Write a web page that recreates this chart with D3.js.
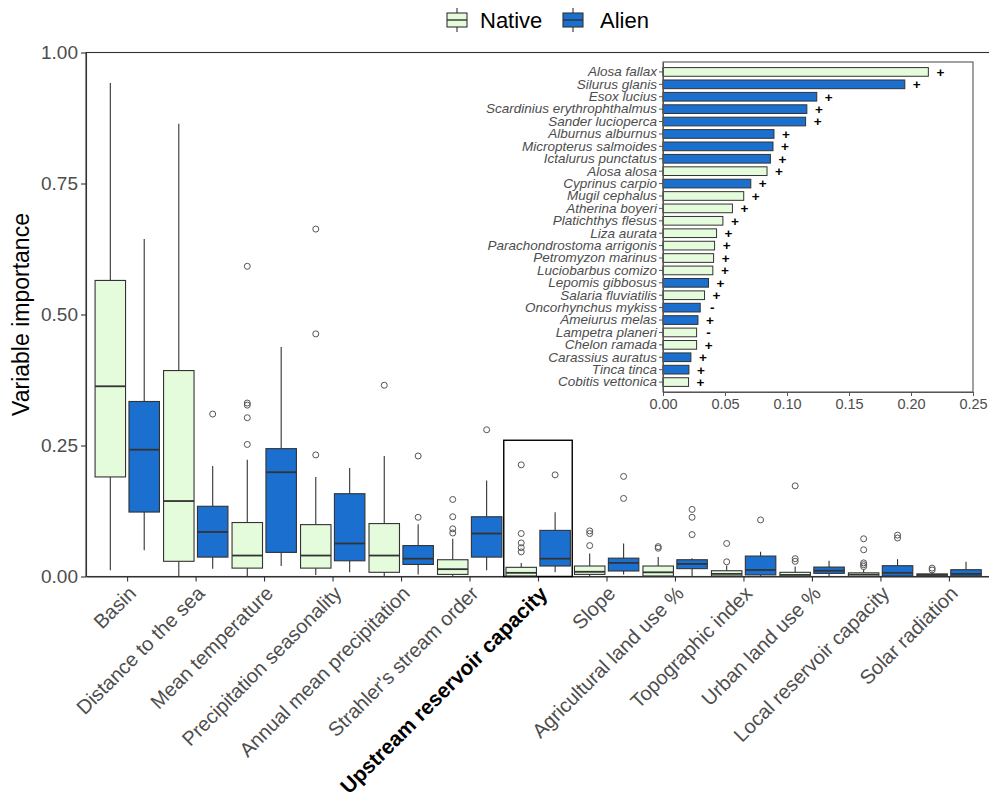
<!DOCTYPE html>
<html>
<head>
<meta charset="utf-8">
<script src="https://cdn.jsdelivr.net/npm/d3@7"></script>
<style>
  html, body { margin: 0; padding: 0; background: #fff; }
  svg { display: block; font-family: "Liberation Sans", Arial, sans-serif; }
</style>
</head>
<body>
<svg id="chart" width="989" height="800"></svg>
<script>
// ---- Variable importance by predictor (box summaries: [min, q1, median, q3, max]) ----
const categories = [
  "Basin", "Distance to the sea", "Mean temperature", "Precipitation seasonality",
  "Annual mean precipitation", "Strahler's stream order", "Upstream reservoir capacity",
  "Slope", "Agricultural land use %", "Topographic index", "Urban land use %",
  "Local reservoir capacity", "Solar radiation"
];
const groups = ["Native", "Alien"];
const highlighted = "Upstream reservoir capacity";

const nativeStats = [
  [0.012, 0.190, 0.363, 0.565, 0.942],
  [0.001, 0.029, 0.144, 0.393, 0.864],
  [0.000, 0.016, 0.040, 0.103, 0.223],
  [0.003, 0.016, 0.040, 0.099, 0.190],
  [0.000, 0.008, 0.040, 0.101, 0.230],
  [0.000, 0.004, 0.014, 0.032, 0.072],
  [0.000, 0.001, 0.007, 0.0175, 0.026],
  [0.000, 0.004, 0.009, 0.020, 0.044],
  [0.000, 0.001, 0.008, 0.020, 0.037],
  [0.000, 0.001, 0.005, 0.011, 0.021],
  [0.000, 0.000, 0.003, 0.008, 0.019],
  [0.000, 0.000, 0.0035, 0.007, 0.014],
  [0.000, 0.001, 0.003, 0.005, 0.008]
];
const alienStats = [
  [0.050, 0.123, 0.242, 0.334, 0.644],
  [0.015, 0.037, 0.085, 0.134, 0.211],
  [0.020, 0.046, 0.199, 0.244, 0.438],
  [0.008, 0.030, 0.063, 0.158, 0.207],
  [0.004, 0.023, 0.034, 0.059, 0.0996],
  [0.012, 0.037, 0.082, 0.114, 0.183],
  [0.008, 0.020, 0.034, 0.088, 0.1225],
  [0.004, 0.0105, 0.026, 0.035, 0.063],
  [0.000, 0.015, 0.024, 0.032, 0.035],
  [0.000, 0.003, 0.0125, 0.039, 0.047],
  [0.000, 0.006, 0.011, 0.018, 0.030],
  [0.001, 0.001, 0.007, 0.0206, 0.033],
  [0.000, 0.001, 0.005, 0.013, 0.028]
];
const nativeOutliers = [
  [], [],
  [0.592, 0.331, 0.327, 0.303, 0.252],
  [0.663, 0.463, 0.232],
  [0.365],
  [0.147, 0.114, 0.091, 0.083],
  [0.213, 0.082, 0.064, 0.055, 0.047],
  [0.087, 0.082, 0.059],
  [0.057, 0.054],
  [0.063, 0.028],
  [0.173, 0.034, 0.029],
  [0.072, 0.051, 0.026, 0.0225, 0.019],
  [0.016, 0.0124]
];
const alienOutliers = [
  [],
  [0.310],
  [], [],
  [0.230, 0.113],
  [0.280],
  [0.194],
  [0.191, 0.149],
  [0.128, 0.113, 0.080],
  [0.108],
  [],
  [0.079, 0.0735],
  []
];
const yTicks = [0, 0.25, 0.5, 0.75, 1];
const highlightTop = 0.26;

// ---- Species importance (inset bar chart) ----
const species = [
  "Alosa fallax", "Silurus glanis", "Esox lucius", "Scardinius erythrophthalmus",
  "Sander lucioperca", "Alburnus alburnus", "Micropterus salmoides", "Ictalurus punctatus",
  "Alosa alosa", "Cyprinus carpio", "Mugil cephalus", "Atherina boyeri",
  "Platichthys flesus", "Liza aurata", "Parachondrostoma arrigonis", "Petromyzon marinus",
  "Luciobarbus comizo", "Lepomis gibbosus", "Salaria fluviatilis", "Oncorhynchus mykiss",
  "Ameiurus melas", "Lampetra planeri", "Chelon ramada", "Carassius auratus",
  "Tinca tinca", "Cobitis vettonica"
];
const speciesImportance = [
  0.214, 0.195, 0.124, 0.116, 0.115, 0.0895, 0.0887, 0.0866, 0.0839, 0.0708,
  0.0651, 0.056, 0.0483, 0.0432, 0.0416, 0.0408, 0.0402, 0.0367, 0.0335, 0.030,
  0.0282, 0.0271, 0.0271, 0.0225, 0.0209, 0.0206
];
const speciesStatus = [
  "Native", "Alien", "Alien", "Alien", "Alien", "Alien", "Alien", "Alien", "Native", "Alien",
  "Native", "Native", "Native", "Native", "Native", "Native", "Native", "Alien", "Native", "Alien",
  "Alien", "Native", "Native", "Alien", "Alien", "Native"
];
const speciesEffect = [
  "+", "+", "+", "+", "+", "+", "+", "+", "+", "+",
  "+", "+", "+", "+", "+", "+", "+", "+", "+", "-",
  "+", "-", "+", "+", "+", "+"
];
const insetTicks = [0, 0.05, 0.10, 0.15, 0.20, 0.25];

// ---- styling ----
const fillColor = { Native: "#e4fbdc", Alien: "#1a6fcf" };
const lineColor = "#333333";
const textGray = "#4d4d4d";

const svg = d3.select("#chart");

// main panel
const panel = { left: 86, right: 990, top: 52.5, bottom: 576.5 };
const x = d3.scalePoint().domain(categories).range([panel.left, panel.right]).padding(0.6);
const y = d3.scaleLinear().domain([0, 1]).range([panel.bottom, panel.top]);
const step = x.step();
const boxW = step * 0.445;
const dodge = { Native: -step * 0.245, Alien: step * 0.25 };

// frame of the main panel
svg.append("rect")
  .attr("x", panel.left).attr("y", panel.top)
  .attr("width", panel.right - panel.left).attr("height", panel.bottom - panel.top)
  .attr("fill", "none").attr("stroke", lineColor).attr("stroke-width", 1.1);

// y axis
const yAxis = svg.append("g")
  .attr("transform", `translate(${panel.left},0)`)
  .call(d3.axisLeft(y).tickValues(yTicks).tickFormat(d3.format(".2f")).tickSize(5).tickSizeOuter(0));
yAxis.select(".domain").attr("stroke", lineColor).attr("stroke-width", 1.1);
yAxis.selectAll(".tick line").attr("stroke", lineColor).attr("stroke-width", 1.1);
yAxis.selectAll(".tick text")
  .attr("font-size", 19).attr("fill", textGray).attr("x", -8)
  .attr("font-family", "Liberation Sans, Arial, sans-serif");

// x axis
const xAxis = svg.append("g")
  .attr("transform", `translate(0,${panel.bottom})`)
  .call(d3.axisBottom(x).tickSize(5).tickSizeOuter(0).tickFormat(""));
xAxis.select(".domain").attr("stroke", lineColor).attr("stroke-width", 1.1);
xAxis.selectAll(".tick line").attr("stroke", lineColor).attr("stroke-width", 1.1);

svg.append("g").selectAll("text")
  .data(categories)
  .join("text")
  .attr("transform", d => `translate(${x(d)},${panel.bottom + 8}) rotate(-45)`)
  .attr("text-anchor", "end")
  .attr("dy", "0.72em")
  .attr("font-size", d => d === highlighted ? 21 : 20)
  .attr("font-weight", d => d === highlighted ? "bold" : "normal")
  .attr("fill", d => d === highlighted ? "#000" : textGray)
  .text(d => d);

// y title
svg.append("text")
  .attr("transform", `translate(29,${(panel.top + panel.bottom) / 2}) rotate(-90)`)
  .attr("text-anchor", "middle")
  .attr("font-size", 23)
  .attr("fill", "#000")
  .text("Variable importance");

// highlight frame around the upstream reservoir capacity pair
svg.append("rect")
  .attr("x", x(highlighted) - step / 2)
  .attr("y", y(highlightTop))
  .attr("width", step)
  .attr("height", y(0) - y(highlightTop))
  .attr("fill", "none")
  .attr("stroke", "#000")
  .attr("stroke-width", 1.4);

// boxplots
const boxes = [];
categories.forEach((c, i) => {
  boxes.push({ cat: c, group: "Native", s: nativeStats[i], out: nativeOutliers[i] });
  boxes.push({ cat: c, group: "Alien", s: alienStats[i], out: alienOutliers[i] });
});

const bx = svg.append("g").selectAll("g.box").data(boxes).join("g").attr("class", "box");
bx.each(function (d) {
  const g = d3.select(this);
  const cx = x(d.cat) + dodge[d.group];
  const [lo, q1, med, q3, hi] = d.s;
  g.append("line").attr("x1", cx).attr("x2", cx).attr("y1", y(q3)).attr("y2", y(hi))
    .attr("stroke", lineColor).attr("stroke-width", 1.1);
  g.append("line").attr("x1", cx).attr("x2", cx).attr("y1", y(q1)).attr("y2", y(lo))
    .attr("stroke", lineColor).attr("stroke-width", 1.1);
  g.append("rect")
    .attr("x", cx - boxW / 2).attr("width", boxW)
    .attr("y", y(q3)).attr("height", Math.max(y(q1) - y(q3), 0.5))
    .attr("fill", fillColor[d.group]).attr("stroke", lineColor).attr("stroke-width", 1.1);
  g.append("line").attr("x1", cx - boxW / 2).attr("x2", cx + boxW / 2)
    .attr("y1", y(med)).attr("y2", y(med))
    .attr("stroke", lineColor).attr("stroke-width", 1.8);
  g.selectAll("circle").data(d.out).join("circle")
    .attr("cx", cx).attr("cy", v => y(v)).attr("r", 3)
    .attr("fill", "none").attr("stroke", "#555").attr("stroke-width", 1);
});

// legend
const legend = svg.append("g").attr("transform", "translate(447,20)");
const legendItems = [
  { key: "Native", kx: 0, tx: 33 },
  { key: "Alien", kx: 116, tx: 153 }
];
legendItems.forEach(it => {
  const g = legend.append("g").attr("transform", `translate(${it.kx},0)`);
  g.append("line").attr("x1", 10).attr("x2", 10).attr("y1", -12).attr("y2", 12)
    .attr("stroke", lineColor).attr("stroke-width", 1.1);
  g.append("rect").attr("x", 0).attr("y", -7).attr("width", 20).attr("height", 14)
    .attr("fill", fillColor[it.key]).attr("stroke", lineColor).attr("stroke-width", 1.1);
  g.append("line").attr("x1", 0).attr("x2", 20).attr("y1", 0).attr("y2", 0)
    .attr("stroke", lineColor).attr("stroke-width", 1.4);
  legend.append("text").attr("x", it.tx).attr("y", 8)
    .attr("font-size", 22).attr("fill", "#000").text(it.key);
});

// ---- inset: species importance ----
const inset = { left: 663, right: 973, top: 62, bottom: 392 };
const ix = d3.scaleLinear().domain([0, 0.25]).range([inset.left, inset.right]);
const iy = d3.scaleBand().domain(species).range([inset.top, inset.bottom]).paddingInner(0.3).paddingOuter(0.45);

svg.append("rect")
  .attr("x", inset.left).attr("y", inset.top)
  .attr("width", inset.right - inset.left).attr("height", inset.bottom - inset.top)
  .attr("fill", "#fff").attr("stroke", "#555").attr("stroke-width", 1.1);

svg.append("g").selectAll("rect")
  .data(species)
  .join("rect")
  .attr("x", ix(0))
  .attr("y", d => iy(d))
  .attr("width", (d, i) => ix(speciesImportance[i]) - ix(0))
  .attr("height", iy.bandwidth())
  .attr("fill", (d, i) => fillColor[speciesStatus[i]])
  .attr("stroke", lineColor).attr("stroke-width", 1);

svg.append("g").selectAll("text")
  .data(species)
  .join("text")
  .attr("x", (d, i) => ix(speciesImportance[i]) + 12)
  .attr("y", d => iy(d) + iy.bandwidth() / 2)
  .attr("dy", "0.36em")
  .attr("text-anchor", "middle")
  .attr("font-size", 13.5).attr("font-weight", "bold").attr("fill", "#000")
  .text((d, i) => speciesEffect[i]);

const iyAxis = svg.append("g")
  .attr("transform", `translate(${inset.left},0)`)
  .call(d3.axisLeft(iy).tickSize(4).tickSizeOuter(0));
iyAxis.select(".domain").attr("stroke", "#555");
iyAxis.selectAll(".tick line").attr("stroke", "#555");
iyAxis.selectAll(".tick text")
  .attr("font-size", 13.5).attr("font-style", "italic").attr("fill", textGray).attr("x", -6)
  .attr("font-family", "Liberation Sans, Arial, sans-serif");

const ixAxis = svg.append("g")
  .attr("transform", `translate(0,${inset.bottom})`)
  .call(d3.axisBottom(ix).tickValues(insetTicks).tickFormat(d3.format(".2f")).tickSize(4).tickSizeOuter(0));
ixAxis.select(".domain").attr("stroke", "#555");
ixAxis.selectAll(".tick line").attr("stroke", "#555");
ixAxis.selectAll(".tick text")
  .attr("font-size", 14.5).attr("fill", textGray).attr("y", 7)
  .attr("font-family", "Liberation Sans, Arial, sans-serif");
</script>
</body>
</html>
